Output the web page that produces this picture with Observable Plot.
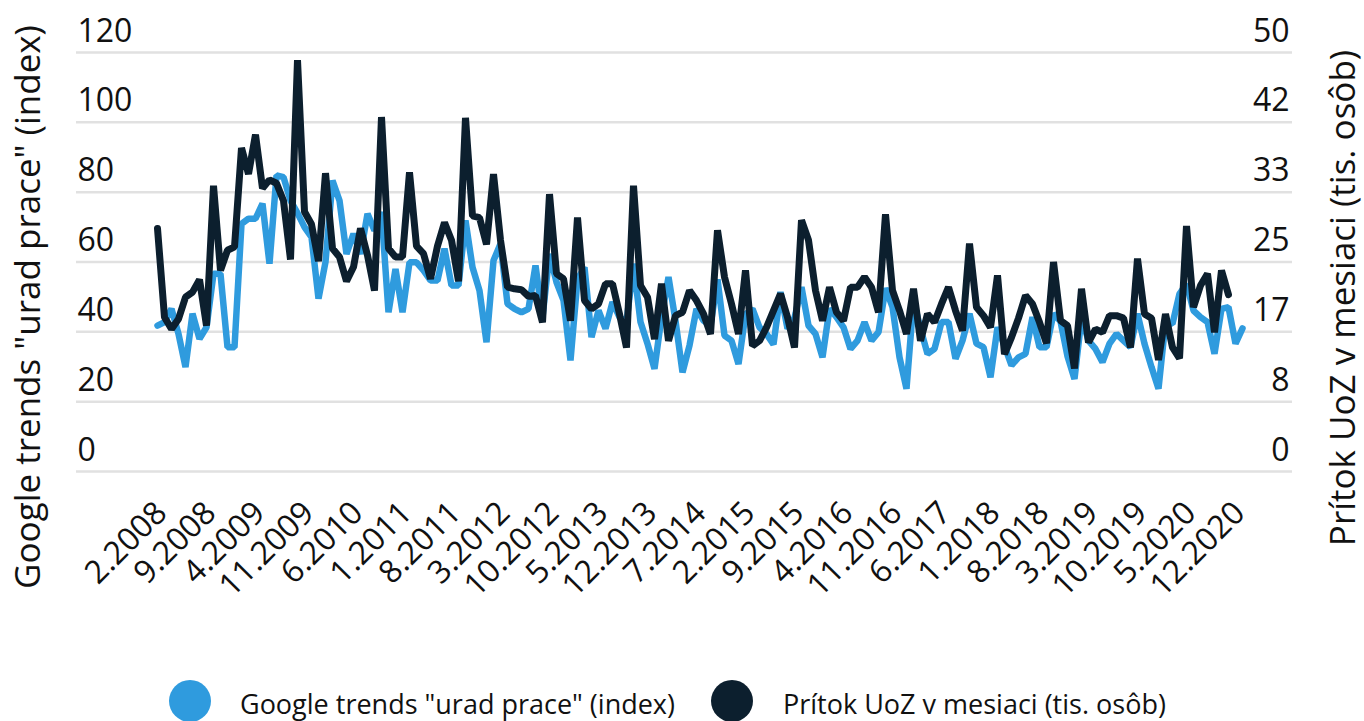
<!DOCTYPE html>
<html>
<head>
<meta charset="utf-8">
<script src="https://cdn.jsdelivr.net/npm/d3@7"></script>
<script src="https://cdn.jsdelivr.net/npm/@observablehq/plot@0.6"></script>
<style>
  html, body { margin: 0; padding: 0; background: #ffffff; }
  #wrap { position: relative; width: 1364px; height: 721px; overflow: hidden; font-family: "Open Sans", sans-serif; }
  .leg-dot { position: absolute; width: 42px; height: 42px; border-radius: 50%; }
  .leg-txt { position: absolute; font-size: 27px; line-height: 27px; color: #111; white-space: nowrap; }
</style>
</head>
<body>
<div id="wrap"></div>
<script>
// ---- data -------------------------------------------------------------
const startYear = 2008;
const startMonth = 2; // February 2008

// Google trends "urad prace" (index), monthly from 2.2008
const googleTrends = [
  41.8, 42.8, 46.6, 39.4, 29.9, 45.2, 38.0, 41.3, 56.6, 56.6, 35.6, 35.6,
  70.9, 72.4, 72.4, 76.7, 59.5, 84.8, 84.3, 77.6, 74.0, 70.0, 67.1, 49.5,
  60.0, 83.3, 77.6, 62.3, 68.1, 62.3, 73.8, 69.0, 74.3, 45.6, 58.0, 45.6,
  59.9, 59.9, 57.6, 54.7, 54.7, 63.8, 53.3, 53.3, 71.9, 58.5, 51.8, 37.0,
  60.4, 65.2, 48.0, 46.6, 45.6, 46.6, 59.0, 44.2, 62.3, 54.2, 49.0, 31.8,
  55.0, 58.5, 38.5, 46.1, 40.9, 48.5, 44.2, 42.8, 59.5, 42.8, 36.6, 29.4,
  44.2, 55.7, 43.2, 28.4, 36.1, 46.6, 43.2, 41.8, 55.0, 38.9, 37.5, 30.8,
  45.0, 46.6, 41.3, 39.4, 36.4, 51.4, 40.9, 44.0, 52.8, 41.8, 39.4, 32.7,
  46.6, 44.2, 41.3, 35.1, 37.5, 42.8, 37.5, 39.9, 52.5, 47.1, 32.7, 23.7,
  49.0, 40.9, 33.7, 35.1, 42.8, 42.8, 32.3, 37.5, 45.2, 36.6, 35.6, 27.0,
  41.3, 36.0, 30.4, 32.7, 33.7, 44.2, 35.6, 35.6, 45.2, 43.0, 33.0, 26.5,
  44.0, 37.5, 35.1, 31.3, 36.6, 39.4, 37.5, 35.6, 45.2, 36.6, 29.9, 23.7,
  42.8, 42.3, 50.9, 53.7, 46.1, 44.2, 42.8, 33.7, 46.6, 47.1, 36.6, 41.0
];

// Prítok UoZ v mesiaci (tis. osôb), monthly from 2.2008
const pritokUoZ = [
  29.0, 18.4, 17.0, 18.2, 20.8, 21.4, 22.9, 17.4, 34.1, 24.0, 26.4, 26.8,
  38.6, 35.5, 40.2, 33.8, 34.8, 34.4, 32.3, 25.3, 49.1, 31.0, 29.5, 25.1,
  35.6, 26.6, 25.6, 22.7, 24.4, 29.0, 25.8, 21.6, 42.3, 26.6, 25.6, 25.6,
  35.7, 26.9, 26.0, 23.0, 26.9, 29.7, 27.6, 22.7, 42.2, 30.5, 30.3, 27.1,
  35.5, 27.6, 22.0, 21.8, 21.7, 20.9, 21.0, 17.8, 33.1, 23.6, 23.0, 18.0,
  30.3, 20.4, 19.4, 20.0, 22.4, 22.4, 18.8, 14.8, 34.1, 22.2, 20.8, 15.8,
  22.4, 15.6, 18.6, 19.0, 21.6, 20.4, 18.8, 16.4, 28.8, 23.2, 20.0, 16.4,
  24.0, 15.0, 15.6, 17.2, 19.2, 21.2, 18.4, 14.8, 30.0, 27.6, 21.6, 18.0,
  22.0, 19.0, 18.0, 22.0, 22.0, 23.2, 22.0, 19.0, 30.7, 21.6, 19.2, 16.4,
  21.8, 15.6, 18.8, 17.8, 20.0, 22.0, 19.2, 16.8, 27.2, 19.6, 18.6, 17.2,
  23.4, 14.0, 16.0, 18.3, 21.0, 20.0, 17.8, 15.3, 25.0, 18.0, 17.4, 12.3,
  21.8, 15.4, 17.0, 16.6, 18.6, 18.6, 18.3, 14.8, 25.4, 18.8, 18.3, 13.3,
  18.8, 14.8, 13.5, 29.3, 19.6, 22.2, 23.6, 16.6, 24.0, 21.1
];

const tickLabels = [
  "2.2008", "9.2008", "4.2009", "11.2009", "6.2010", "1.2011", "8.2011",
  "3.2012", "10.2012", "5.2013", "12.2013", "7.2014", "2.2015", "9.2015",
  "4.2016", "11.2016", "6.2017", "1.2018", "8.2018", "3.2019", "10.2019",
  "5.2020", "12.2020"
];

const leftTicks = [0, 20, 40, 60, 80, 100, 120];
const rightTicks = [0, 8.33, 16.67, 25, 33.33, 41.67, 50];
const rightMax = 50, leftMax = 120;

const seriesNames = ['Google trends "urad prace" (index)', "Prítok UoZ v mesiaci (tis. osôb)"];
const seriesColors = ["#2f9bde", "#0c1f2e"];
const leftTitle = seriesNames[0];
const rightTitle = seriesNames[1];

// ---- build ------------------------------------------------------------
const months = googleTrends.map((_, i) => {
  const m = startMonth - 1 + i;
  return `${(m % 12) + 1}.${startYear + Math.floor(m / 12)}`;
});
const blueRows = googleTrends.map((v, i) => ({month: months[i], value: v}));
const darkRows = pritokUoZ.map((v, i) => ({month: months[i], value: v}));
const toLeft = (v) => v * leftMax / rightMax;

const H = 650;
const chart = Plot.plot({
  width: 1364,
  height: H,
  marginTop: 52,
  marginBottom: H - 471,
  marginLeft: 76,
  marginRight: 72,
  style: {fontFamily: '"Open Sans", sans-serif', background: "transparent", color: "#111", overflow: "visible"},
  x: {type: "point", domain: months, range: [151, 1247], axis: null},
  y: {domain: [0, leftMax], axis: null},
  marks: [
    Plot.ruleY(leftTicks, {stroke: "#e1e1e1", strokeWidth: 2.5}),
    Plot.text(leftTicks, {y: (d) => d, text: (d) => String(d), frameAnchor: "left", textAnchor: "start",
      lineAnchor: "bottom", dy: -11, dx: 1, fontSize: 32, fill: "#111"}),
    Plot.text(rightTicks, {y: (d) => toLeft(d), text: (d) => String(Math.round(d)), frameAnchor: "right",
      textAnchor: "end", lineAnchor: "bottom", dy: -11, dx: -3, fontSize: 32, fill: "#111"}),
    Plot.line(blueRows, {x: "month", y: "value", stroke: seriesColors[0], strokeWidth: 6.5, strokeLinejoin: "miter"}),
    Plot.line(darkRows, {x: "month", y: (d) => toLeft(d.value), stroke: seriesColors[1], strokeWidth: 7, strokeLinejoin: "miter"}),
    Plot.text(tickLabels, {x: (d) => d, text: (d) => d, frameAnchor: "bottom", rotate: -45, textAnchor: "end",
      lineAnchor: "middle", dy: 36, dx: 4, fontSize: 32, fill: "#111"}),
    Plot.text([leftTitle], {text: (d) => d, frameAnchor: "left", rotate: -90, textAnchor: "middle", lineAnchor: "middle",
      dx: -48, dy: 45, fontSize: 35, fill: "#111"}),
    Plot.text([rightTitle], {text: (d) => d, frameAnchor: "right", rotate: -90, textAnchor: "middle", lineAnchor: "middle",
      dx: 51, dy: 36, fontSize: 35, fill: "#111"})
  ]
});

const wrap = document.getElementById("wrap");
wrap.appendChild(chart);

// legend below the SVG
const legendItems = [
  {name: seriesNames[0], color: seriesColors[0], dotX: 169, textX: 240},
  {name: seriesNames[1], color: seriesColors[1], dotX: 711, textX: 783}
];
for (const it of legendItems) {
  const dot = document.createElement("div");
  dot.className = "leg-dot";
  dot.style.left = it.dotX + "px";
  dot.style.top = "680px";
  dot.style.background = it.color;
  wrap.appendChild(dot);
  const t = document.createElement("div");
  t.className = "leg-txt";
  t.style.left = it.textX + "px";
  t.style.top = "690px";
  t.textContent = it.name;
  wrap.appendChild(t);
}
</script>
</body>
</html>
